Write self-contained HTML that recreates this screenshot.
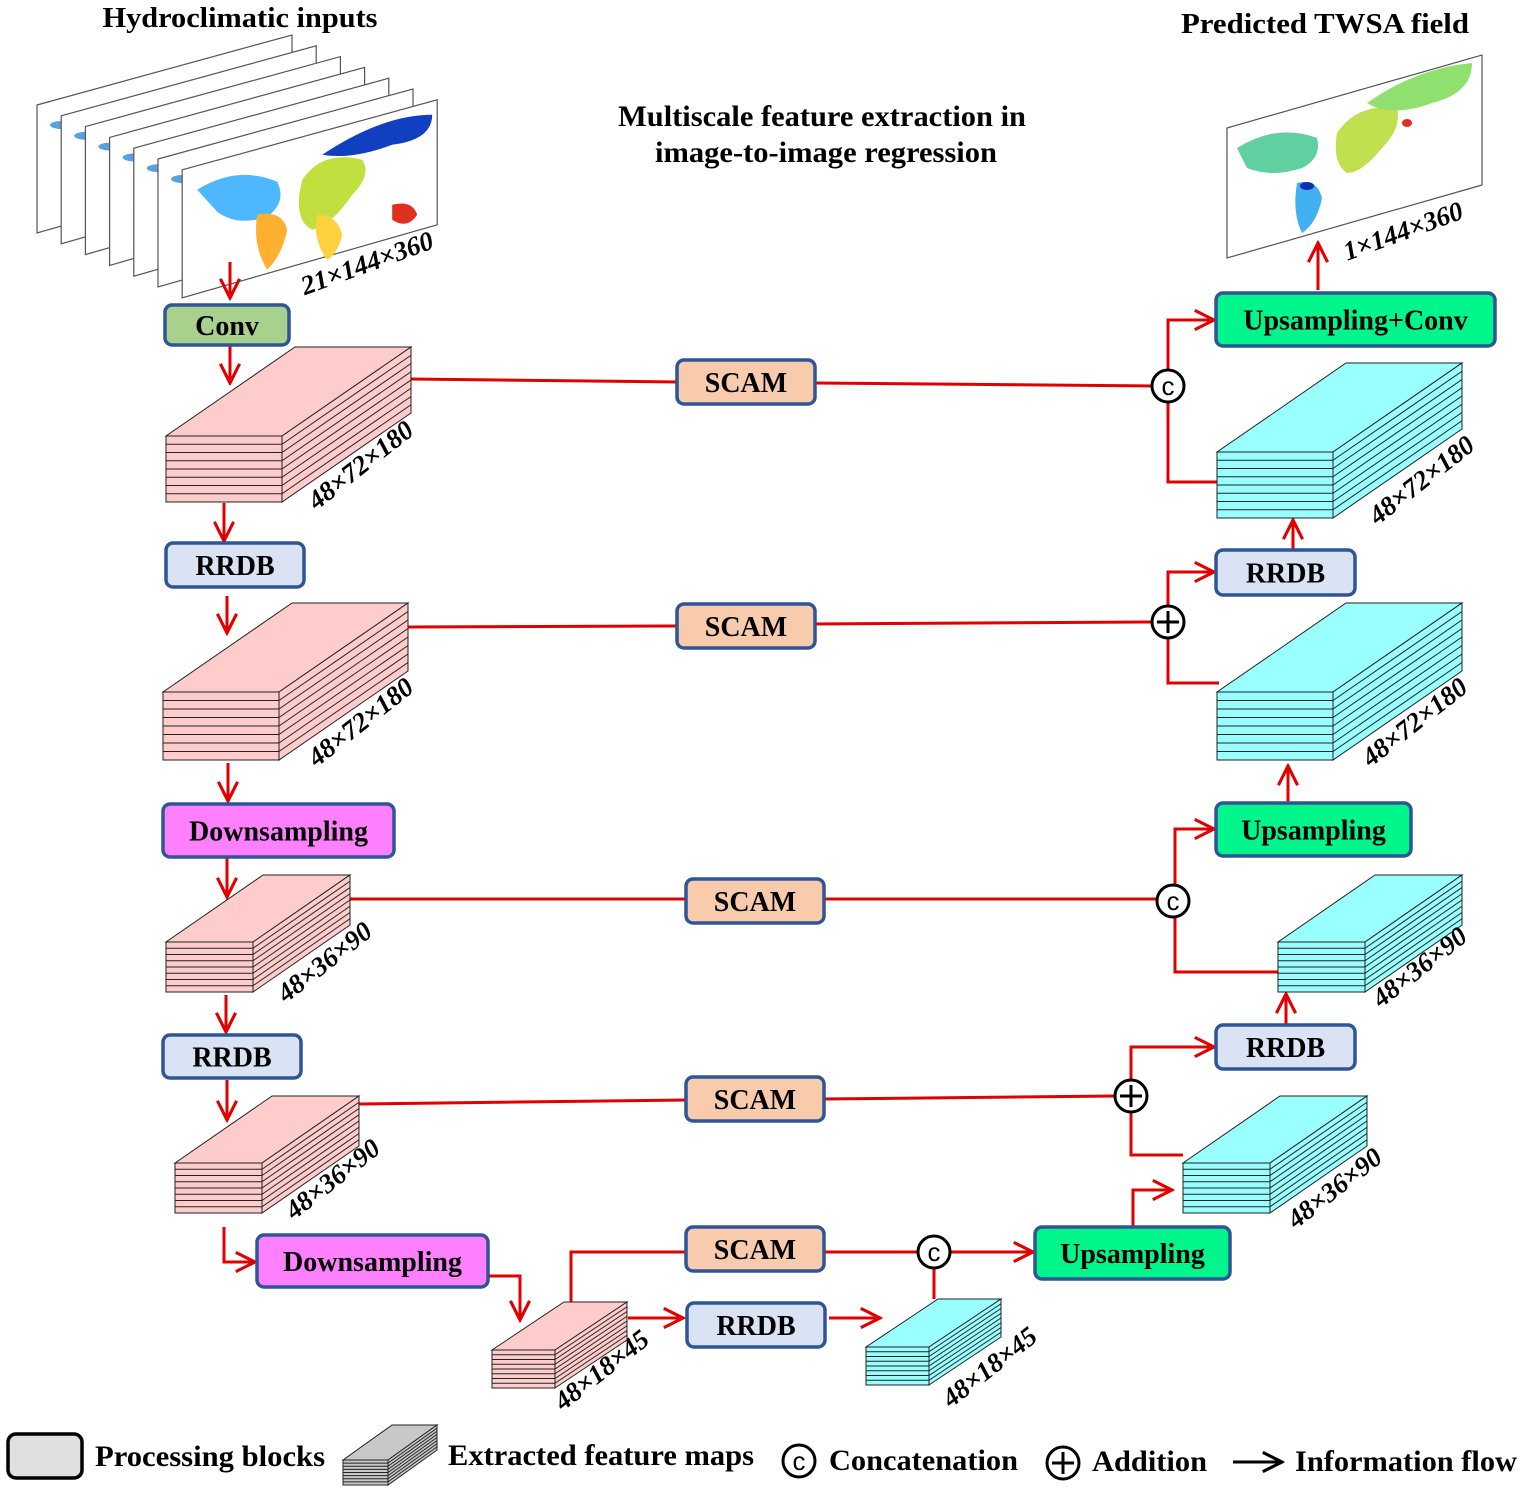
<!DOCTYPE html>
<html><head><meta charset="utf-8"><style>
html,body{margin:0;padding:0;background:#fff;}
svg{display:block;font-family:"Liberation Serif",serif;font-weight:bold;}
</style></head><body>
<svg id="s" width="1520" height="1493" viewBox="0 0 1520 1493" xmlns="http://www.w3.org/2000/svg">
<defs>
<marker id="ar2" viewBox="0 0 10 10" refX="9" refY="5" markerWidth="24" markerHeight="24" orient="auto" markerUnits="userSpaceOnUse"><path d="M1,1 L9,5 L1,9" fill="none" stroke="#e00000" stroke-width="1.3"/></marker>
<marker id="ark" viewBox="0 0 10 10" refX="9" refY="5" markerWidth="24" markerHeight="24" orient="auto" markerUnits="userSpaceOnUse"><path d="M1,1 L9,5 L1,9" fill="none" stroke="#000" stroke-width="1.3"/></marker>
</defs>
<text x="240" y="27" font-size="29" text-anchor="middle" textLength="275" lengthAdjust="spacingAndGlyphs">Hydroclimatic inputs</text>
<text x="1325" y="33" font-size="29" text-anchor="middle" textLength="288" lengthAdjust="spacingAndGlyphs">Predicted TWSA field</text>
<text x="822" y="126" font-size="30" text-anchor="middle" textLength="408" lengthAdjust="spacingAndGlyphs">Multiscale feature extraction in</text>
<text x="826" y="162" font-size="30" text-anchor="middle" textLength="342" lengthAdjust="spacingAndGlyphs">image-to-image regression</text>
<g id="maps"></g>
<g id="lines" fill="none" stroke="#e00000" stroke-width="3"></g>
<g id="boxes"></g>
<g id="blocks"></g>
<g id="labels"></g>
<g id="legend"></g>
</svg>
<script>
const NS="http://www.w3.org/2000/svg";
function mk(parent,tag,attrs,text){const e=document.createElementNS(NS,tag);for(const k in attrs)e.setAttribute(k,attrs[k]);if(text!==undefined)e.textContent=text;parent.appendChild(e);return e;}
const maps=document.getElementById('maps');
for(let i=0;i<7;i++){
  const x=37+i*24.2,y=105+i*10.8;
  const g=mk(maps,'g',{});
  
  
  mk(g,'polygon',{points:`${x},${y} ${x+255},${y-70} ${x+255},${y+55} ${x},${y+128}`,fill:'#fff',stroke:'#555','stroke-width':1.2});
  if(i<6){mk(g,'ellipse',{cx:x+25,cy:y+20,rx:12,ry:4,fill:'#5aa0e0'});}
  else{
    mk(g,'path',{d:`M${x+15},${y+20} q40,-25 80,-8 q10,20 -10,35 q-30,10 -50,-5 z`,fill:'#4db8ff'});
    mk(g,'path',{d:`M${x+75},${y+45} q25,-5 30,15 q-5,25 -20,40 q-15,-25 -10,-55 z`,fill:'#ffb030'});
    mk(g,'path',{d:`M${x+120},${y+10} q20,-30 60,-20 q10,15 -10,35 q-20,30 -40,35 q-20,-10 -10,-50 z`,fill:'#c0e040'});
    mk(g,'path',{d:`M${x+135},${y+45} q20,0 25,20 q-5,20 -15,25 q-15,-20 -10,-45 z`,fill:'#ffd040'});
    mk(g,'path',{d:`M${x+140},${y-15} q60,-40 110,-40 q0,25 -40,30 q-40,15 -70,10 z`,fill:'#1040c0'});
    mk(g,'path',{d:`M${x+210},${y+35} q20,-5 25,10 q-10,15 -25,5 z`,fill:'#e03020'});
  }
}
{const g=mk(maps,'g',{});
 const x=1227,y=128;
 mk(g,'polygon',{points:`${x},${y} ${x+255},${y-73} ${x+255},${y+57} ${x},${y+130}`,fill:'#fff',stroke:'#555','stroke-width':1.2});
 mk(g,'path',{d:`M${x+10},${y+20} q40,-25 80,-10 q5,20 -15,30 q-30,10 -55,0 z`,fill:'#60d0a0'});
 mk(g,'path',{d:`M${x+70},${y+55} q20,-5 25,15 q-5,25 -20,35 q-10,-20 -5,-50 z`,fill:'#40b0f0'});
 mk(g,'path',{d:`M${x+110},${y+5} q20,-30 60,-25 q5,20 -15,40 q-20,25 -35,25 q-15,-10 -10,-40 z`,fill:'#c0e050'});
 mk(g,'path',{d:`M${x+140},${y-25} q50,-35 105,-40 q0,30 -40,40 q-40,15 -65,0 z`,fill:'#90e070'});
 mk(g,'ellipse',{cx:x+80,cy:y+58,rx:7,ry:4,fill:'#1030b0'});
 mk(g,'ellipse',{cx:x+180,cy:y-5,rx:5,ry:4,fill:'#e03020'});
}
let t0=mk(maps,'text',{x:367,y:272,'font-size':27,'font-style':'italic','text-anchor':'middle',transform:'rotate(-20 367 263)'},'21×144×360');
t0=mk(maps,'text',{x:1403,y:240,'font-size':27,'font-style':'italic','text-anchor':'middle',transform:'rotate(-20 1403 231)'},'1×144×360');

const boxes=[
 [166,436,116,66,129,89,'p','48×72×180',366,472],
 [163,692,116,68,129,89,'p','48×72×180',366,729],
 [166,942,87,50,97,67,'p','48×36×90',330,969],
 [175,1163,87,50,97,67,'p','48×36×90',338,1186],
 [492,1350,63,38,72,48,'p','48×18×45',607,1377],
 [1217,452,116,66,129,89,'c','48×72×180',1427,487],
 [1217,692,116,68,129,89,'c','48×72×180',1420,729],
 [1278,942,87,50,97,67,'c','48×36×90',1425,974],
 [1183,1163,87,50,97,67,'c','48×36×90',1340,1195],
 [866,1347,63,38,72,48,'c','48×18×45',995,1374]
];
const bg=document.getElementById('boxes');
function box(par,x,y,w,h,dx,dy,front,top,side,n){
  const g=mk(par,'g',{stroke:'#222','stroke-width':1});
  mk(g,'polygon',{points:`${x},${y} ${x+w},${y} ${x+w+dx},${y-dy} ${x+dx},${y-dy}`,fill:top});
  mk(g,'polygon',{points:`${x+w},${y} ${x+w+dx},${y-dy} ${x+w+dx},${y-dy+h} ${x+w},${y+h}`,fill:side});
  mk(g,'rect',{x:x,y:y,width:w,height:h,fill:front});
  for(let i=1;i<n;i++){const yy=y+h*i/n;
    mk(g,'line',{x1:x,y1:yy,x2:x+w,y2:yy});
    mk(g,'line',{x1:x+w,y1:yy,x2:x+w+dx,y2:yy-dy});}
  return g;
}
boxes.forEach(b=>{
  const pink=b[6]==='p';
  const c=pink?'#ffcccc':'#99ffff';
  const g=box(bg,b[0],b[1],b[2],b[3],b[4],b[5],c,c,c,8);
  
  
  const t=mk(document.getElementById('labels'),'text',{x:b[8],y:b[9],'font-size':27,'font-style':'italic','text-anchor':'middle',transform:`rotate(-38 ${b[8]} ${b[9]})`},b[7]);
  
  
});

const blocks=[
 [165,305,289,345,'#a9d18e','Conv'],
 [166,543,304,587,'#dae3f3','RRDB'],
 [163,804,394,857,'#ff80ff','Downsampling'],
 [163,1035,301,1078,'#dae3f3','RRDB'],
 [257,1235,488,1287,'#ff80ff','Downsampling'],
 [687,1303,825,1347,'#dae3f3','RRDB'],
 [677,360,815,404,'#f8cbad','SCAM'],
 [677,604,815,648,'#f8cbad','SCAM'],
 [686,879,824,923,'#f8cbad','SCAM'],
 [686,1077,824,1121,'#f8cbad','SCAM'],
 [686,1227,824,1271,'#f8cbad','SCAM'],
 [1216,293,1495,346,'#00f58a','Upsampling+Conv'],
 [1216,550,1355,595,'#dae3f3','RRDB'],
 [1216,803,1411,856,'#00f58a','Upsampling'],
 [1216,1025,1355,1069,'#dae3f3','RRDB'],
 [1035,1227,1230,1279,'#00f58a','Upsampling']
];
const bl=document.getElementById('blocks');
blocks.forEach(b=>{
  const g=mk(bl,'g',{});
  
  
  mk(g,'rect',{x:b[0],y:b[1],width:b[2]-b[0],height:b[3]-b[1],rx:7,fill:b[4],stroke:'#2f5597','stroke-width':3.5});
  mk(g,'text',{x:(b[0]+b[2])/2,y:(b[1]+b[3])/2+10,'font-size':28,'text-anchor':'middle'},b[5]);
});

const L=document.getElementById('lines');
function pl(pts,arrow){const p=mk(L,'polyline',{points:pts.map(q=>q.join(',')).join(' ')});if(arrow)p.setAttribute('marker-end','url(#ar2)');return p;}
pl([[411,379],[677,382]]);pl([[815,383],[1152,386]]);
pl([[408,627],[677,626]]);pl([[815,624],[1152,622]]);
pl([[350,899],[686,899]]);pl([[824,899],[1157,899]]);
pl([[359,1104],[686,1100]]);pl([[824,1099],[1115,1096]]);
pl([[571,1302],[571,1252],[686,1252]]);pl([[824,1252],[918,1252]]);
pl([[1168,370],[1168,320],[1214,320]],1);pl([[1168,402],[1168,482],[1217,482]]);
pl([[1168,606],[1168,572],[1214,572]],1);pl([[1168,638],[1168,683],[1219,683]]);
pl([[1175,885],[1175,829],[1214,829]],1);pl([[1175,917],[1175,972],[1278,972]]);
pl([[1131,1080],[1131,1047],[1214,1047]],1);pl([[1131,1112],[1131,1155],[1183,1155]]);
pl([[950,1252],[1033,1252]],1);pl([[934,1268],[934,1299]]);
pl([[1133,1227],[1133,1190],[1172,1190]],1);
[[230,262,298],[230,345,383],[224,503,541],[227,596,633],[228,763,801],[227,858,897],[226,995,1032],[227,1080,1120]].forEach(a=>pl([[a[0],a[1]],[a[0],a[2]]],1));
pl([[224,1227],[224,1262],[255,1262]],1);
pl([[488,1276],[520,1276],[520,1320]],1);
pl([[628,1318],[683,1318]],1);
pl([[829,1318],[880,1318]],1);
[[1318,290,243],[1293,550,520],[1288,802,766],[1286,1024,994]].forEach(a=>pl([[a[0],a[1]],[a[0],a[2]]],1));
const circs=[[1168,386,'c'],[1168,622,'p'],[1173,901,'c'],[1131,1096,'p'],[934,1252,'c']];
circs.forEach(c=>{
  const g=mk(bl,'g',{});
  
  
  mk(g,'circle',{cx:c[0],cy:c[1],r:16,fill:'#fff',stroke:'#000','stroke-width':3});
  if(c[2]==='c')mk(g,'text',{x:c[0],y:c[1]+9,'font-size':26,'font-weight':'normal','text-anchor':'middle','font-family':'Liberation Sans, sans-serif'},'c');
  else{mk(g,'line',{x1:c[0]-11,y1:c[1],x2:c[0]+11,y2:c[1],stroke:'#000','stroke-width':3});mk(g,'line',{x1:c[0],y1:c[1]-11,x2:c[0],y2:c[1]+11,stroke:'#000','stroke-width':3});}
});
const lg=document.getElementById('legend');
let e=mk(lg,'rect',{x:8,y:1434,width:74,height:44,rx:8,fill:'#e0e0e0',stroke:'#000','stroke-width':3.5});
e=mk(lg,'text',{x:95,y:1466,'font-size':30,textLength:230,lengthAdjust:'spacingAndGlyphs'},'Processing blocks');
e=box(lg,343,1460,45,25,49,35,'#c8c8c8','#c8c8c8','#c8c8c8',8);
e=mk(lg,'text',{x:448,y:1465,'font-size':30,textLength:306,lengthAdjust:'spacingAndGlyphs'},'Extracted feature maps');
e=mk(lg,'circle',{cx:799,cy:1461,r:16,fill:'#fff',stroke:'#000','stroke-width':3});
mk(lg,'text',{x:799,y:1470,'font-size':26,'font-weight':'normal','text-anchor':'middle','font-family':'Liberation Sans, sans-serif'},'c');
e=mk(lg,'text',{x:829,y:1470,'font-size':30,textLength:189,lengthAdjust:'spacingAndGlyphs'},'Concatenation');
e=mk(lg,'circle',{cx:1063,cy:1463,r:16,fill:'#fff',stroke:'#000','stroke-width':3});
mk(lg,'line',{x1:1052,y1:1463,x2:1074,y2:1463,stroke:'#000','stroke-width':3});mk(lg,'line',{x1:1063,y1:1452,x2:1063,y2:1474,stroke:'#000','stroke-width':3});
e=mk(lg,'text',{x:1092,y:1471,'font-size':30,textLength:115,lengthAdjust:'spacingAndGlyphs'},'Addition');
e=mk(lg,'line',{x1:1233,y1:1462,x2:1282,y2:1462,stroke:'#000','stroke-width':3,'marker-end':'url(#ark)'});
e=mk(lg,'text',{x:1295,y:1471,'font-size':30,textLength:222,lengthAdjust:'spacingAndGlyphs'},'Information flow');
</script>
</body></html>
